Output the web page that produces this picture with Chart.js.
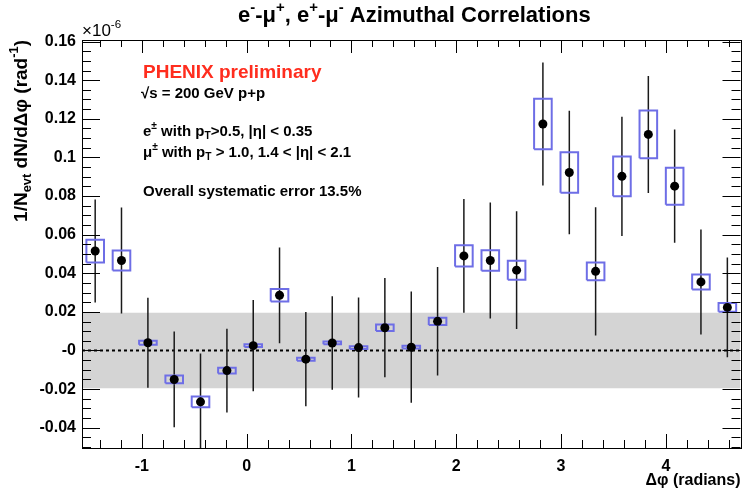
<!DOCTYPE html>
<html>
<head>
<meta charset="utf-8">
<script src="https://cdn.jsdelivr.net/npm/chart.js@4"></script>
<style>
  html, body { margin: 0; padding: 0; background: #fff; }
  #wrap { width: 745px; height: 497px; }
</style>
</head>
<body>
<div id="wrap"><canvas id="chart" width="745" height="497"></canvas></div>
<script>
"use strict";

// bin centres in delta-phi (25 bins over -pi/2 .. 3pi/2)
const binCenters = [
  -1.445, -1.194, -0.942, -0.691, -0.440, -0.188, 0.063, 0.314, 0.565,
  0.817, 1.068, 1.319, 1.571, 1.822, 2.073, 2.325, 2.576, 2.827, 3.079,
  3.330, 3.581, 3.833, 4.084, 4.335, 4.587
];
const yields = [
  0.0515, 0.0466, 0.0040, -0.0150, -0.0266, -0.0104, 0.0025, 0.0286, -0.0045,
  0.0039, 0.0015, 0.0118, 0.0017, 0.0151, 0.0490, 0.0466, 0.0416, 0.1173, 0.0922,
  0.0410, 0.0902, 0.1119, 0.0851, 0.0355, 0.0223
];
const statErr = [
  0.0267, 0.0275, 0.0233, 0.0248, 0.0250, 0.0217, 0.0236, 0.0248, 0.0244,
  0.0242, 0.0259, 0.0257, 0.0288, 0.0281, 0.0295, 0.0300, 0.0305, 0.0318, 0.0320,
  0.0332, 0.0309, 0.0303, 0.0293, 0.0272, 0.0258
];
const sysErr = [
  0.0059, 0.0052, 0.0010, 0.0020, 0.0028, 0.0015, 0.0007, 0.0032, 0.0008,
  0.0007, 0.0007, 0.0017, 0.0007, 0.0019, 0.0055, 0.0053, 0.0049, 0.0131, 0.0105,
  0.0046, 0.0103, 0.0124, 0.0096, 0.0039, 0.0023
];
const xTicks = [-1, 0, 1, 2, 3, 4];
const yTicks = [-0.04, -0.02, 0, 0.02, 0.04, 0.06, 0.08, 0.1, 0.12, 0.14, 0.16];
const xRange = [-Math.PI / 2, 3 * Math.PI / 2];
const yRange = [-0.0505, 0.1608];
const overallSys = 0.0195;
const boxHalfWidth = 0.084;

const FONT = "'Liberation Sans', Arial, Helvetica, sans-serif";

/**
 * Draws text made of normal / sub / sup parts
 */
function richWidth(ctx, parts, size, weight) {
  let w = 0;
  parts.forEach((p) => {
    const s = p.s ? size * 0.68 : size;
    ctx.font = `${weight} ${s}px ${FONT}`;
    w += ctx.measureText(p.t).width;
  });
  return w;
}

function drawRich(ctx, parts, x, y, size, weight, align) {
  const w = richWidth(ctx, parts, size, weight);
  let cx = x;
  if (align === "center") cx = x - w / 2;
  if (align === "right") cx = x - w;
  ctx.textBaseline = "middle";
  ctx.textAlign = "left";
  parts.forEach((p) => {
    const s = p.s ? size * 0.68 : size;
    let dy = 0;
    if (p.s === "sup") dy = -size * 0.38;
    if (p.s === "sub") dy = size * 0.3;
    ctx.font = `${weight} ${s}px ${FONT}`;
    ctx.fillText(p.t, cx, y + dy);
    cx += ctx.measureText(p.t).width;
  });
}

// error bars, systematic boxes and points built from the arrays
const barData = [];
const boxData = [];
const pointData = [];
binCenters.forEach((x, i) => {
  const v = yields[i];
  barData.push({ x: x, y: v - statErr[i] }, { x: x, y: v + statErr[i] }, { x: x, y: null });
  const l = x - boxHalfWidth, r = x + boxHalfWidth;
  const lo = v - sysErr[i], hi = v + sysErr[i];
  boxData.push({ x: l, y: lo }, { x: r, y: lo }, { x: r, y: hi }, { x: l, y: hi }, { x: l, y: lo }, { x: l, y: null });
  pointData.push({ x: x, y: v });
});

const framePlugin = {
  id: "rootFrame",
  afterDraw(chart) {
    const { ctx, chartArea: a, scales } = chart;
    const xs = scales.x, ys = scales.y;
    ctx.save();
    ctx.strokeStyle = "#000";
    ctx.lineWidth = 1;
    ctx.beginPath();
    // x ticks (bottom and top)
    for (let k = -8; k <= 23; k++) {
      const v = k * 0.2;
      if (v < xRange[0] || v > xRange[1]) continue;
      const major = k % 5 === 0;
      const px = Math.round(xs.getPixelForValue(v)) + 0.5;
      ctx.moveTo(px, a.bottom);
      ctx.lineTo(px, a.bottom - (major ? 14 : 8));
      ctx.moveTo(px, a.top);
      ctx.lineTo(px, a.top + (major ? 13 : 7));
    }
    // y ticks (left and right)
    for (let k = -10; k <= 32; k++) {
      const v = k * 0.005;
      if (v < yRange[0] || v > yRange[1]) continue;
      const major = k % 4 === 0;
      const py = Math.round(ys.getPixelForValue(v)) + 0.5;
      const len = major ? 18 : 9;
      ctx.moveTo(a.left, py);
      ctx.lineTo(a.left + len, py);
      ctx.moveTo(a.right, py);
      ctx.lineTo(a.right - len, py);
    }
    ctx.stroke();
    ctx.strokeRect(Math.round(a.left) + 0.5, Math.round(a.top) + 0.5,
      Math.round(a.right - a.left), Math.round(a.bottom - a.top));

    ctx.fillStyle = "#000";
    // title
    drawRich(ctx, [
      { t: "e" }, { t: "-", s: "sup" }, { t: "-μ" }, { t: "+", s: "sup" },
      { t: ", e" }, { t: "+", s: "sup" }, { t: "-μ" }, { t: "-", s: "sup" },
      { t: " Azimuthal Correlations" }
    ], 238, 16, 22, "bold", "left");
    // exponent
    drawRich(ctx, [{ t: "×10" }, { t: "-6", s: "sup" }], a.left, 31, 17, "normal", "left");
    // axis titles
    drawRich(ctx, [{ t: "Δφ (radians)" }], a.right, 481, 16, "bold", "right");
    ctx.save();
    ctx.translate(22, 40);
    ctx.rotate(-Math.PI / 2);
    drawRich(ctx, [
      { t: "1/N" }, { t: "evt", s: "sub" }, { t: " dN/dΔφ (rad" }, { t: "-1", s: "sup" }, { t: ")" }
    ], 0, 0, 19, "bold", "right");
    ctx.restore();

    // annotations
    ctx.fillStyle = "#ff2d1e";
    drawRich(ctx, [{ t: "PHENIX preliminary" }], 143, 73, 19, "bold", "left");
    ctx.fillStyle = "#000";
    drawRich(ctx, [{ t: "√s = 200 GeV p+p" }], 141, 94, 15, "bold", "left");
    drawRich(ctx, [
      { t: "e" }, { t: "±", s: "sup" }, { t: " with p" }, { t: "T", s: "sub" }, { t: ">0.5, |η| < 0.35" }
    ], 143, 132, 15, "bold", "left");
    drawRich(ctx, [
      { t: "μ" }, { t: "±", s: "sup" }, { t: " with p" }, { t: "T", s: "sub" }, { t: " > 1.0, 1.4 < |η| < 2.1" }
    ], 143, 153, 15, "bold", "left");
    drawRich(ctx, [{ t: "Overall systematic error 13.5%" }], 143, 192, 15, "bold", "left");
    ctx.restore();
  },
};

function buildChart() {
  const el = document.getElementById("chart");
  return new Chart(el, {
    type: "line",
    data: {
      datasets: [
        {
          label: "data",
          data: pointData,
          showLine: false,
          pointRadius: 4.5,
          pointBackgroundColor: "#000",
          pointBorderColor: "#000",
          pointBorderWidth: 0,
          order: 1,
        },
        {
          label: "sys",
          data: boxData,
          borderColor: "#6e6ee6",
          borderWidth: 2,
          pointRadius: 0,
          spanGaps: false,
          fill: false,
          order: 2,
        },
        {
          label: "stat",
          data: barData,
          borderColor: "#1a1a1a",
          borderWidth: 1.5,
          pointRadius: 0,
          spanGaps: false,
          fill: false,
          order: 3,
        },
        {
          label: "zero",
          data: [{ x: xRange[0], y: 0 }, { x: xRange[1], y: 0 }],
          borderColor: "#000",
          borderWidth: 2,
          borderDash: [3, 3],
          pointRadius: 0,
          fill: false,
          order: 4,
        },
        {
          label: "overall sys",
          data: [{ x: xRange[0], y: overallSys }, { x: xRange[1], y: overallSys }],
          borderWidth: 0,
          borderColor: "rgba(0,0,0,0)",
          backgroundColor: "#d4d4d4",
          pointRadius: 0,
          fill: { value: -overallSys },
          order: 5,
        },
      ],
    },
    options: {
      responsive: false,
      animation: false,
      devicePixelRatio: 1,
      layout: { padding: { left: 0, right: 3, top: 40, bottom: 0 } },
      plugins: {
        legend: { display: false },
        tooltip: { enabled: false },
        title: { display: false },
      },
      scales: {
        x: {
          type: "linear",
          min: xRange[0],
          max: xRange[1],
          grid: { display: false, drawTicks: false },
          border: { display: false },
          afterBuildTicks: (s) => { s.ticks = xTicks.map((v) => ({ value: v })); },
          afterFit: (s) => { s.height = 49; },
          ticks: {
            padding: 9,
            color: "#000",
            font: { family: FONT, size: 16, weight: "bold" },
            callback: (v) => String(v),
          },
        },
        y: {
          type: "linear",
          min: yRange[0],
          max: yRange[1],
          grid: { display: false, drawTicks: false },
          border: { display: false },
          afterBuildTicks: (s) => { s.ticks = yTicks.map((v) => ({ value: v })); },
          afterFit: (s) => { s.width = 82; },
          ticks: {
            padding: 6,
            color: "#000",
            font: { family: FONT, size: 16, weight: "bold" },
            callback: (v) => (Math.abs(v) < 1e-9 ? "-0" : String(+v.toFixed(2))),
          },
        },
      },
    },
    plugins: [framePlugin],
  });
}

buildChart();
</script>
</body>
</html>
